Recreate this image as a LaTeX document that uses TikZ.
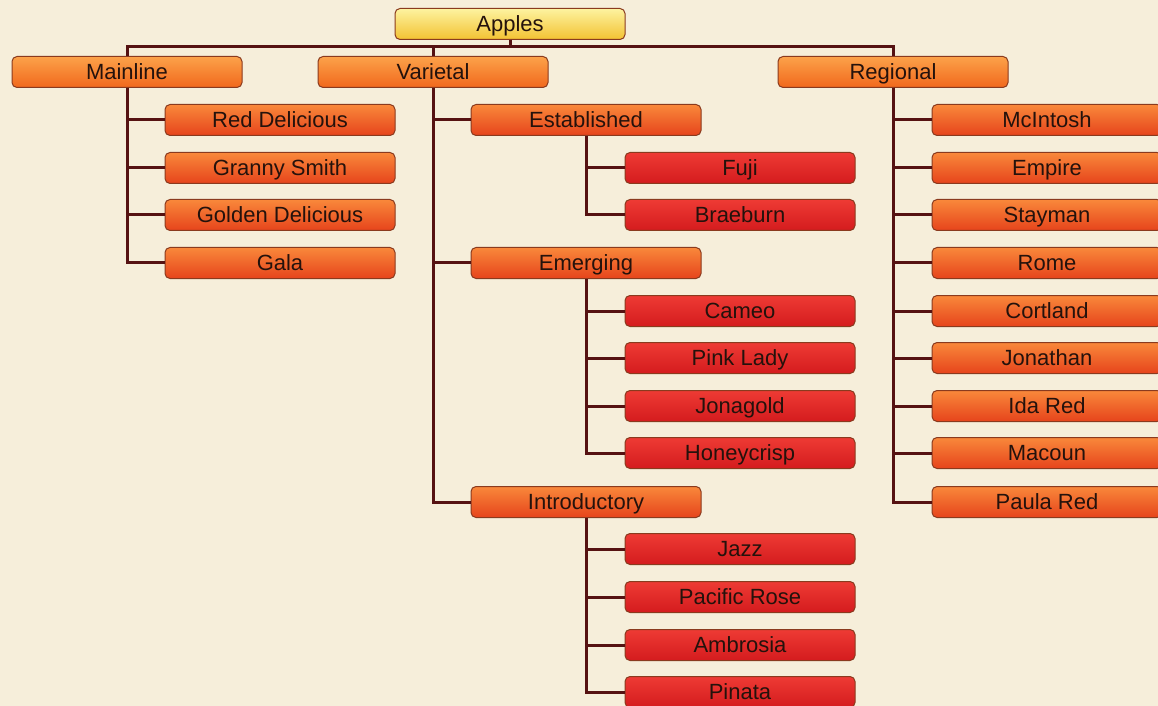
\documentclass[tikz,border=0pt]{standalone}
\usepackage{fontspec}
\setmainfont{Liberation Sans}
\usepackage{xcolor}
\usetikzlibrary{positioning}

\definecolor{paper}{HTML}{F6EEDA}
\definecolor{boxline}{HTML}{8A3A1E}
\definecolor{linkcol}{HTML}{561212}
\definecolor{textcol}{HTML}{24120C}

\begin{document}
\begin{tikzpicture}[x=0.5pt, y=-0.5pt]
  \tikzstyle{box} = [draw=boxline, line width=0.5pt, rounded corners=2.5pt,
    minimum width=115pt, minimum height=15.5pt, inner sep=0pt,
    text height=7.9pt, text depth=0pt,
    font=\fontsize{11}{13}\selectfont, text=textcol]
  \tikzstyle{rootbox} = [box, top color={rgb,255:red,253;green,243;blue,160},
    bottom color={rgb,255:red,243;green,194;blue,50}]
  \tikzstyle{groupbox} = [box, top color={rgb,255:red,252;green,162;blue,74},
    bottom color={rgb,255:red,241;green,104;blue,28}]
  \tikzstyle{kindbox} = [box, top color={rgb,255:red,249;green,136;blue,58},
    bottom color={rgb,255:red,230;green,68;blue,28}]
  \tikzstyle{applebox} = [box, top color={rgb,255:red,238;green,58;blue,52},
    bottom color={rgb,255:red,212;green,28;blue,30}]
  \tikzstyle{link} = [draw=linkcol, line width=1.5pt]

  \clip (0,0) rectangle (1158,706);
  \fill[paper] (0,0) rectangle (1158,706);
  \useasboundingbox (0,0) rectangle (1158,706);

  % top and groups
  \node[rootbox] (apples) at (510,24) {Apples};
  \node[groupbox] (mainline) at (127,72) {Mainline};
  \node[groupbox] (varietal) at (433,72) {Varietal};
  \node[groupbox] (regional) at (893,72) {Regional};

  % mainline
  \node[kindbox] (reddel) at (280,120) {Red Delicious};
  \node[kindbox] (granny) at (280,168) {Granny Smith};
  \node[kindbox] (golden) at (280,215) {Golden Delicious};
  \node[kindbox] (gala) at (280,263) {Gala};

  % varietal
  \node[kindbox] (established) at (586,120) {Established};
  \node[kindbox] (emerging) at (586,263) {Emerging};
  \node[kindbox] (introductory) at (586,502) {Introductory};
  \node[applebox] (fuji) at (740,168) {Fuji};
  \node[applebox] (braeburn) at (740,215) {Braeburn};
  \node[applebox] (cameo) at (740,311) {Cameo};
  \node[applebox] (pinklady) at (740,358) {Pink Lady};
  \node[applebox] (jonagold) at (740,406) {Jonagold};
  \node[applebox] (honeycrisp) at (740,453) {Honeycrisp};
  \node[applebox] (jazz) at (740,549) {Jazz};
  \node[applebox] (pacrose) at (740,597) {Pacific Rose};
  \node[applebox] (ambrosia) at (740,645) {Ambrosia};
  \node[applebox] (pinata) at (740,692) {Pinata};

  % regional
  \node[kindbox] (mcintosh) at (1047,120) {McIntosh};
  \node[kindbox] (empire) at (1047,168) {Empire};
  \node[kindbox] (stayman) at (1047,215) {Stayman};
  \node[kindbox] (rome) at (1047,263) {Rome};
  \node[kindbox] (cortland) at (1047,311) {Cortland};
  \node[kindbox] (jonathan) at (1047,358) {Jonathan};
  \node[kindbox] (idared) at (1047,406) {Ida Red};
  \node[kindbox] (macoun) at (1047,453) {Macoun};
  \node[kindbox] (paulared) at (1047,502) {Paula Red};

  % connectors
  \draw[link] (apples.south) -- ++(0,7) -| (mainline.north);
  \draw[link] (apples.south) -- ++(0,7) -| (varietal.north);
  \draw[link] (apples.south) -- ++(0,7) -| (regional.north);

  \draw[link] (mainline.south) |- (reddel.west);
  \draw[link] (mainline.south) |- (granny.west);
  \draw[link] (mainline.south) |- (golden.west);
  \draw[link] (mainline.south) |- (gala.west);

  \draw[link] (varietal.south) |- (established.west);
  \draw[link] (varietal.south) |- (emerging.west);
  \draw[link] (varietal.south) |- (introductory.west);

  \draw[link] (established.south) |- (fuji.west);
  \draw[link] (established.south) |- (braeburn.west);
  \draw[link] (emerging.south) |- (cameo.west);
  \draw[link] (emerging.south) |- (pinklady.west);
  \draw[link] (emerging.south) |- (jonagold.west);
  \draw[link] (emerging.south) |- (honeycrisp.west);
  \draw[link] (introductory.south) |- (jazz.west);
  \draw[link] (introductory.south) |- (pacrose.west);
  \draw[link] (introductory.south) |- (ambrosia.west);
  \draw[link] (introductory.south) |- (pinata.west);

  \draw[link] (regional.south) |- (mcintosh.west);
  \draw[link] (regional.south) |- (empire.west);
  \draw[link] (regional.south) |- (stayman.west);
  \draw[link] (regional.south) |- (rome.west);
  \draw[link] (regional.south) |- (cortland.west);
  \draw[link] (regional.south) |- (jonathan.west);
  \draw[link] (regional.south) |- (idared.west);
  \draw[link] (regional.south) |- (macoun.west);
  \draw[link] (regional.south) |- (paulared.west);
\end{tikzpicture}
\end{document}
